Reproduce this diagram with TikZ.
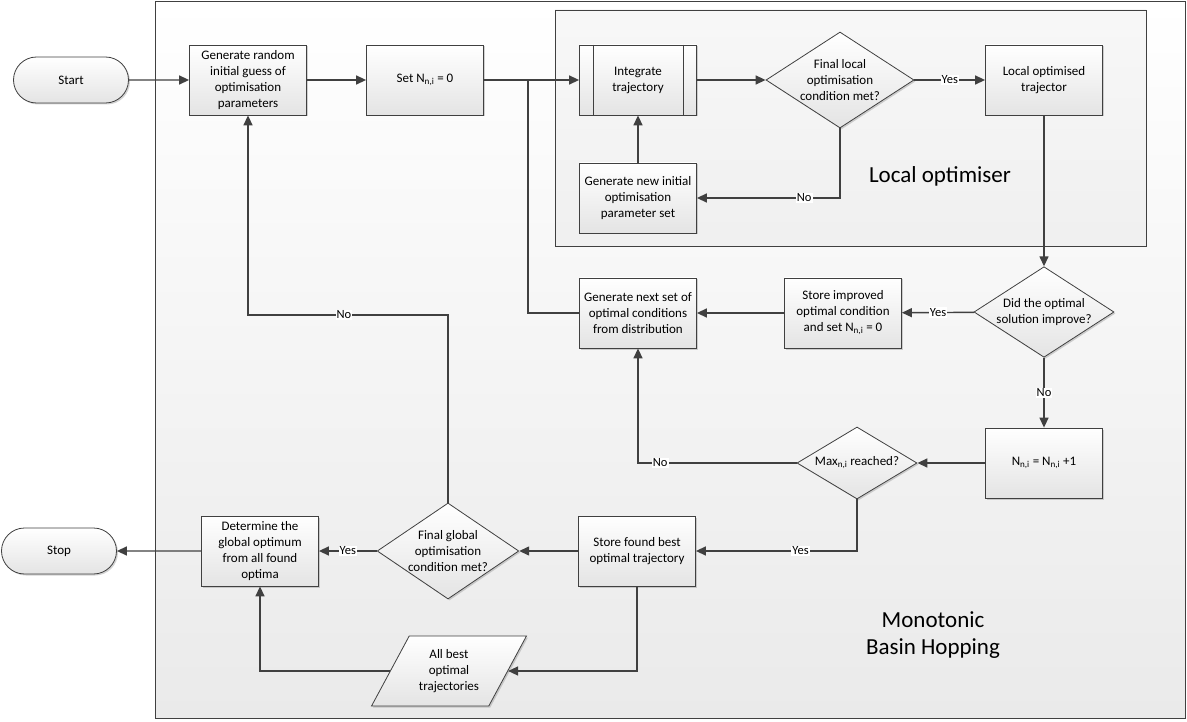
\documentclass[tikz,border=0pt]{standalone}
\usepackage{fontspec}
\setmainfont{Carlito}
\usetikzlibrary{shapes.geometric,shapes.misc,arrows.meta,shadows}
\definecolor{linec}{HTML}{404040}
\definecolor{boxbot}{HTML}{E4E4E4}
\definecolor{contbot}{HTML}{EAEAEA}
\begin{document}
\begin{tikzpicture}[x=1pt,y=-1pt,
  every node/.style={font=\fontsize{13}{16}\selectfont, text=black},
  shapebase/.style={draw=linec, line width=0.8pt, top color=white, bottom color=boxbot,
    align=center, inner sep=1pt,
    drop shadow={opacity=0.35, shadow xshift=1.5pt, shadow yshift=-1.5pt, fill=gray}},
  proc/.style={shapebase, rectangle, minimum width=117pt, minimum height=70pt},
  term/.style={shapebase, rounded rectangle, minimum width=117pt, minimum height=46pt},
  dec/.style={shapebase, diamond, aspect=1.5, inner sep=0pt},
  io/.style={shapebase, trapezium, trapezium left angle=57, trapezium right angle=123,
    trapezium stretches=true, minimum width=155pt, minimum height=70pt},
  arr/.style={draw=linec, line width=1.4pt, -{Triangle[length=10pt,width=9pt]}},
  conn/.style={draw=linec, line width=1.4pt},
  lab/.style={fill=white, inner sep=1pt, font=\fontsize{12.5}{14}\selectfont},
  big/.style={font=\fontsize{23}{27}\selectfont, align=center},
  container/.style={draw=linec, line width=0.8pt}
]
\useasboundingbox (0,0) rectangle (1187,722);
% containers
\draw[container, top color=white, bottom color=contbot] (155,1) rectangle (1185,718);
\draw[container, top color=white!97!black, bottom color=white!94!black] (555,10) rectangle (1146,246);
\node[big] (lbl1) at (940,176) {Local optimiser};
\node[big] (lbl2) at (933,635) {Monotonic\\Basin Hopping};

% nodes
\node[term] (start) at (71,80) {Start};
\node[proc] (gen) at (248,80) {Generate random\\initial guess of\\optimisation\\parameters};
\node[proc] (setn) at (425,80) {Set N\textsubscript{n,i} = 0};
\node[proc] (integ) at (638,80) {Integrate\\trajectory};
\draw[linec, line width=0.8pt] ([xshift=14pt]integ.north west) -- ([xshift=14pt]integ.south west)
  ([xshift=-14pt]integ.north east) -- ([xshift=-14pt]integ.south east);
\node[dec, minimum width=148pt, minimum height=96pt] (dloc) at (840,80) {Final local\\optimisation\\condition met?};
\node[proc] (lopt) at (1044,80) {Local optimised\\trajector};
\node[proc] (gnew) at (638,198) {Generate new initial\\optimisation\\parameter set};
\node[dec, minimum width=140pt, minimum height=90pt] (ddid) at (1044,312) {Did the optimal\\solution improve?};
\node[proc] (simp) at (843,313) {Store improved\\optimal condition\\and set N\textsubscript{n,i} = 0};
\node[proc] (gnext) at (638,313) {Generate next set of\\optimal conditions\\from distribution};
\node[proc] (ninc) at (1044,463) {N\textsubscript{n,i} = N\textsubscript{n,i} +1};
\node[dec, minimum width=120pt, minimum height=72pt] (dmax) at (857,463) {Max\textsubscript{n,i} reached?};
\node[proc] (sfound) at (637,551) {Store found best\\optimal trajectory};
\node[dec, minimum width=140pt, minimum height=96pt] (dglob) at (448,551) {Final global\\optimisation\\condition met?};
\node[proc] (det) at (260,551) {Determine the\\global optimum\\from all found\\optima};
\node[term] (stop) at (59,551) {Stop};
\node[io] (allbest) at (449,671) {All best\\optimal\\trajectories};

% connectors
\coordinate (j) at (528,80);
\coordinate (nobend) at (448,315);
\draw[arr] (start) -- (gen);
\draw[arr] (gen) -- (setn);
\draw[arr] (setn) -- (integ);
\draw[conn] (gnext.west) -| (j);
\draw[arr] (integ) -- (dloc);
\draw[arr] (dloc) -- node[lab]{Yes} (lopt);
\draw[arr] (dloc.south) |- node[lab,pos=0.625]{No} (gnew.east);
\draw[arr] (gnew) -- (integ);
\draw[arr] (lopt) -- (ddid);
\draw[arr] (ddid) -- node[lab]{Yes} (simp);
\draw[arr] (simp) -- (gnext);
\draw[arr] (ddid) -- node[lab]{No} (ninc);
\draw[arr] (ninc) -- (dmax);
\draw[arr] (dmax.west) -| node[lab,pos=0.43]{No} (gnext.south);
\draw[arr] (dmax.south) |- node[lab,pos=0.675]{Yes} (sfound.east);
\draw[arr] (sfound) -- (dglob);
\draw[arr] (dglob) -- node[lab]{Yes} (det);
\draw[arr] (det) -- (stop);
\draw[arr] (dglob.north) -- (nobend) -| node[lab,pos=0.26]{No} (gen.south);
\draw[arr] (sfound.south) |- (allbest.east);
\draw[arr] (allbest.west) -| (det.south);
\end{tikzpicture}
\end{document}
